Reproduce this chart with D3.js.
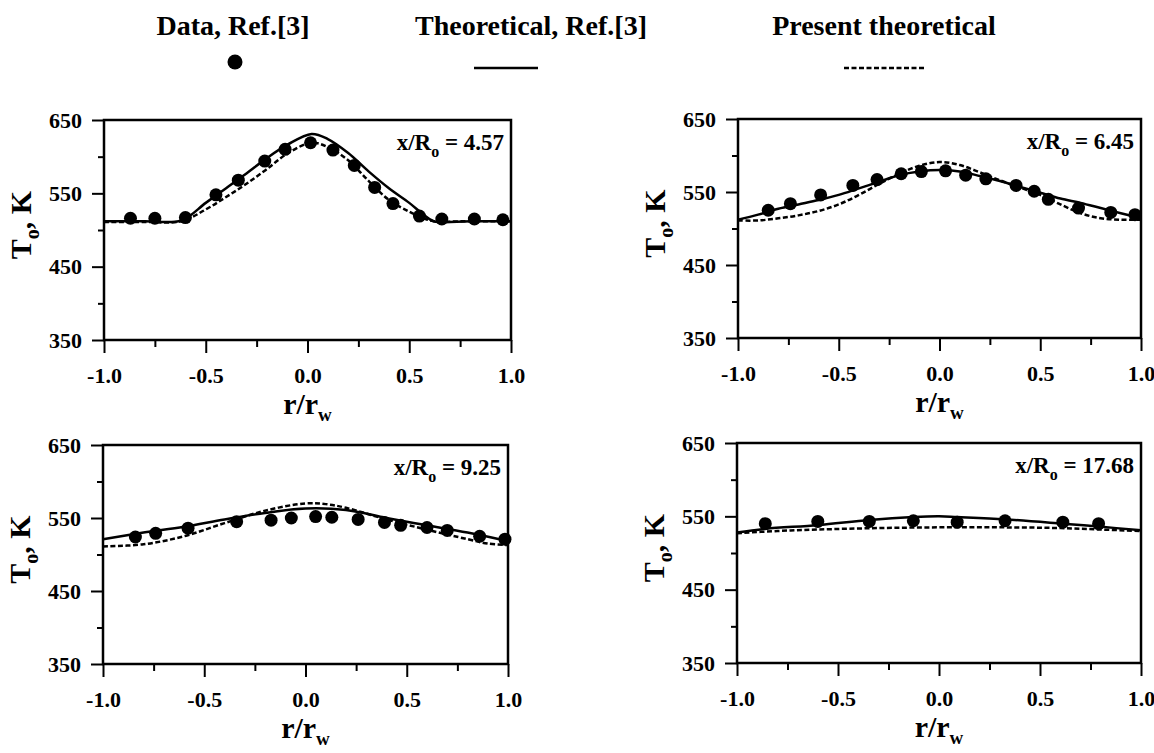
<!DOCTYPE html>
<html>
<head>
<meta charset="utf-8">
<script src="https://cdn.jsdelivr.net/npm/d3@7"></script>
<style>
body { margin: 0; background: #fff; }
text { font-family: "Liberation Serif", "Times New Roman", serif; font-weight: bold; fill: #000; }
</style>
</head>
<body>
<div id="chart"></div>
<script>
// stations x/Ro
const stations = ["4.57", "6.45", "9.25", "17.68"];

// Data, Ref.[3]
const data457_r = [-0.87, -0.75, -0.60, -0.45, -0.34, -0.21, -0.11, 0.015, 0.125, 0.23, 0.33, 0.42, 0.55, 0.66, 0.82, 0.96];
const data457_T = [516, 516, 517, 548, 568, 594, 610, 619, 609, 588, 558, 536, 519, 515, 515, 514];
const data645_r = [-0.85, -0.74, -0.59, -0.43, -0.31, -0.19, -0.09, 0.03, 0.13, 0.23, 0.38, 0.47, 0.54, 0.69, 0.85, 0.97];
const data645_T = [525, 534, 546, 559, 567, 575, 578, 579, 573, 568, 559, 551, 540, 528, 522, 519];
const data925_r = [-0.84, -0.74, -0.58, -0.34, -0.17, -0.07, 0.05, 0.13, 0.26, 0.39, 0.47, 0.60, 0.70, 0.86, 0.985];
const data925_T = [524, 529, 536, 545, 547, 550, 552, 551, 548, 544, 540, 537, 533, 525, 521];
const data1768_r = [-0.86, -0.60, -0.345, -0.127, 0.09, 0.327, 0.613, 0.79];
const data1768_T = [540, 543, 543, 544, 542, 544, 542, 540];

// Theoretical, Ref.[3]
const ref457_r = [-1, -0.8, -0.62, -0.5, -0.4, -0.3, -0.2, -0.1, 0.02, 0.1, 0.2, 0.3, 0.4, 0.5, 0.57, 0.62, 0.8, 1.0];
const ref457_T = [512, 512, 513, 537, 557, 577, 598, 616, 631, 624, 605, 580, 557, 537, 521, 512, 512, 512];
const ref645_r = [-1, -0.9, -0.8, -0.7, -0.6, -0.5, -0.4, -0.3, -0.2, -0.1, 0, 0.1, 0.2, 0.3, 0.4, 0.5, 0.6, 0.7, 0.8, 0.9, 1.0];
const ref645_T = [512, 519, 527, 533, 539, 546, 555, 564, 573, 578, 580, 578, 572, 565, 557, 549, 541, 535, 528, 521, 514];
const ref925_r = [-1, -0.8, -0.6, -0.4, -0.2, 0, 0.2, 0.4, 0.6, 0.8, 1.0];
const ref925_T = [521, 530, 538, 548, 557, 563, 561, 550, 540, 530, 518];
const ref1768_r = [-1, -0.86, -0.6, -0.345, -0.127, 0, 0.09, 0.327, 0.613, 0.79, 1.0];
const ref1768_T = [528, 533, 538, 545, 549, 550, 549, 546, 540, 536, 531];

// Present theoretical
const pres457_r = [-1, -0.8, -0.62, -0.5, -0.4, -0.3, -0.2, -0.1, 0.02, 0.1, 0.2, 0.3, 0.4, 0.5, 0.57, 0.62, 0.8, 1.0];
const pres457_T = [511, 511, 512, 528, 545, 563, 583, 604, 619, 613, 595, 567, 541, 525, 516, 512, 512, 512];
const pres645_r = [-1, -0.9, -0.8, -0.7, -0.6, -0.5, -0.4, -0.3, -0.2, -0.1, 0, 0.1, 0.2, 0.3, 0.4, 0.5, 0.6, 0.7, 0.8, 0.9, 1.0];
const pres645_T = [511, 511, 514, 518, 524, 533, 546, 561, 575, 586, 591, 587, 577, 566, 556, 546, 533, 521, 514, 512, 512];
const pres925_r = [-1, -0.8, -0.6, -0.4, -0.2, 0, 0.1, 0.2, 0.4, 0.6, 0.8, 0.9, 1.0];
const pres925_T = [511, 514, 525, 543, 560, 570, 569, 564, 548, 534, 521, 515, 513];
const pres1768_r = [-1, -0.8, -0.6, -0.3, 0, 0.3, 0.6, 0.8, 1.0];
const pres1768_T = [527, 530, 532, 534, 535, 535, 534, 532, 530];

const yMajor = [350, 450, 550, 650];
const yMinor = [400, 500, 600];
const xMajor = [-1, -0.5, 0, 0.5, 1];
const xMinor = [-0.75, -0.25, 0.25, 0.75];

const legendLabels = ["Data, Ref.[3]", "Theoretical, Ref.[3]", "Present theoretical"];

const zip = (a, b) => a.map((v, i) => [v, b[i]]);
const panels = [
  {st: stations[0], dots: zip(data457_r, data457_T), ref: zip(ref457_r, ref457_T), pres: zip(pres457_r, pres457_T), x0: 104, x1: 511, y0: 120, y1: 340},
  {st: stations[1], dots: zip(data645_r, data645_T), ref: zip(ref645_r, ref645_T), pres: zip(pres645_r, pres645_T), x0: 738, x1: 1141, y0: 119, y1: 338},
  {st: stations[2], dots: zip(data925_r, data925_T), ref: zip(ref925_r, ref925_T), pres: zip(pres925_r, pres925_T), x0: 103, x1: 508, y0: 445, y1: 664},
  {st: stations[3], dots: zip(data1768_r, data1768_T), ref: zip(ref1768_r, ref1768_T), pres: zip(pres1768_r, pres1768_T), x0: 737, x1: 1141, y0: 443, y1: 663}
];

const svg = d3.select("#chart").append("svg")
  .attr("width", 1154).attr("height", 753)
  .style("background", "#fff");

// legend
const legX = [233, 531, 884];
svg.selectAll("text.leg").data(legendLabels).enter().append("text")
  .attr("class", "leg")
  .attr("x", (d, i) => legX[i]).attr("y", 35)
  .attr("text-anchor", "middle")
  .style("font-size", "28px")
  .text(d => d);
svg.append("circle").attr("cx", 235).attr("cy", 62).attr("r", 7.5).attr("fill", "#000");
svg.append("line").attr("x1", 474).attr("x2", 538).attr("y1", 68).attr("y2", 68)
  .attr("stroke", "#000").attr("stroke-width", 2.5);
svg.append("line").attr("x1", 844).attr("x2", 924).attr("y1", 68).attr("y2", 68)
  .attr("stroke", "#000").attr("stroke-width", 2.5).attr("stroke-dasharray", "5,2.5");

panels.forEach(function(p) {
  const x = d3.scaleLinear().domain([-1, 1]).range([p.x0, p.x1]);
  const y = d3.scaleLinear().domain([350, 650]).range([p.y1, p.y0]);
  const g = svg.append("g");

  // axes, ticks outward
  g.append("g").attr("transform", "translate(0," + p.y1 + ")")
    .call(d3.axisBottom(x).tickValues(xMajor).tickSize(13).tickSizeOuter(0).tickPadding(14)
      .tickFormat(d => d.toFixed(1)));
  g.append("g").attr("transform", "translate(0," + p.y1 + ")")
    .call(d3.axisBottom(x).tickValues(xMinor).tickSize(7).tickSizeOuter(0).tickFormat(""));
  g.append("g").attr("transform", "translate(" + p.x0 + ",0)")
    .call(d3.axisLeft(y).tickValues(yMajor).tickSize(12).tickSizeOuter(0).tickPadding(10));
  g.append("g").attr("transform", "translate(" + p.x0 + ",0)")
    .call(d3.axisLeft(y).tickValues(yMinor).tickSize(6).tickSizeOuter(0).tickFormat(""));
  g.selectAll(".domain").remove();
  g.selectAll(".tick line").attr("stroke", "#000").attr("stroke-width", 2);
  g.selectAll(".tick text").style("font-size", "22px")
    .style("font-family", "'Liberation Serif', serif").style("font-weight", "bold");

  // frame
  g.append("rect").attr("x", p.x0).attr("y", p.y0)
    .attr("width", p.x1 - p.x0).attr("height", p.y1 - p.y0)
    .attr("fill", "none").attr("stroke", "#000").attr("stroke-width", 2.5);

  const line = d3.line().x(d => x(d[0])).y(d => y(d[1])).curve(d3.curveCatmullRom.alpha(0.5));
  g.append("path").attr("d", line(p.pres)).attr("fill", "none")
    .attr("stroke", "#000").attr("stroke-width", 2.5).attr("stroke-dasharray", "5,2.5");
  g.append("path").attr("d", line(p.ref)).attr("fill", "none")
    .attr("stroke", "#000").attr("stroke-width", 2.5);
  g.selectAll("circle.pt").data(p.dots).enter().append("circle")
    .attr("class", "pt")
    .attr("cx", d => x(d[0])).attr("cy", d => y(d[1])).attr("r", 6.5).attr("fill", "#000");

  // station label
  const lab = g.append("text").attr("x", p.x1 - 7).attr("y", p.y0 + 30)
    .attr("text-anchor", "end").style("font-size", "23px");
  lab.append("tspan").text("x/R");
  lab.append("tspan").attr("dy", 7).style("font-size", "16px").text("o");
  lab.append("tspan").attr("dy", -7).text(" = " + p.st);

  // x title
  const xt = g.append("text").attr("x", (p.x0 + p.x1) / 2).attr("y", p.y1 + 74)
    .attr("text-anchor", "middle").style("font-size", "30px");
  xt.append("tspan").text("r/r");
  xt.append("tspan").attr("dy", 7).style("font-size", "19px").text("w");

  // y title
  const yt = g.append("text")
    .attr("transform", "translate(" + (p.x0 - 73) + "," + ((p.y0 + p.y1) / 2 - 5) + ") rotate(-90)")
    .attr("text-anchor", "middle").style("font-size", "30px");
  yt.append("tspan").text("T");
  yt.append("tspan").attr("dy", 8).style("font-size", "20px").text("o");
  yt.append("tspan").attr("dy", -8).text(", K");
});
</script>
</body>
</html>
